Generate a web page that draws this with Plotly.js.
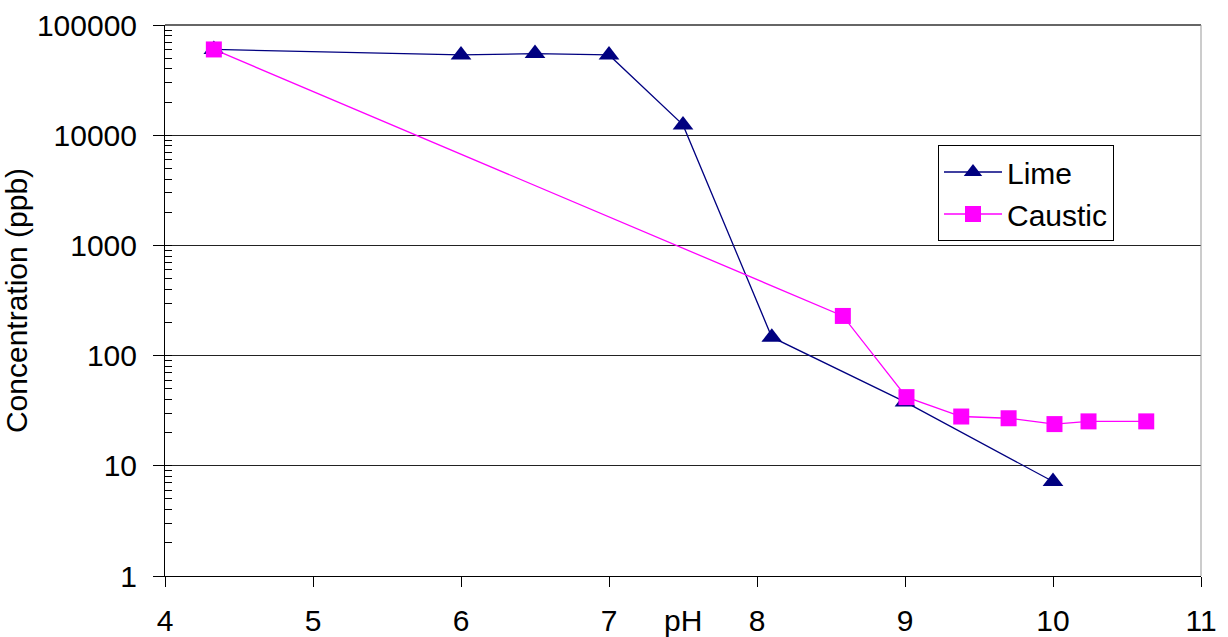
<!DOCTYPE html>
<html>
<head>
<meta charset="utf-8">
<script src="https://cdn.plot.ly/plotly-3.0.1.min.js"></script>
<style>html,body{margin:0;padding:0;background:#fff;}#chart{width:1228px;height:637px;}</style>
</head>
<body>
<div id="chart"></div>
<script>
const limePH = [4.33, 6.0, 6.5, 7.0, 7.5, 8.1, 9.0, 10.0];
const limeConc = [60000, 53500, 55000, 53500, 12400, 147, 38, 7.2];
const causticPH = [4.33, 8.58, 9.01, 9.38, 9.7, 10.01, 10.24, 10.63];
const causticConc = [60000, 229, 42, 28, 27, 23.9, 25.3, 25.3];
const yTickVals = [1, 10, 100, 1000, 10000, 100000];
const yTickText = ['1', '10', '100', '1000', '10000', '100000'];
const xTickVals = [4, 5, 6, 7, 8, 9, 10, 11];

const font = 'Arial, "Liberation Sans", sans-serif';
const fs = 30;

const traces = [
  {
    x: limePH, y: limeConc, name: 'Lime', type: 'scatter', mode: 'lines+markers',
    line: {color: '#000080', width: 1.3},
    marker: {symbol: 'triangle-up', size: 18, color: '#000080'}
  },
  {
    x: causticPH, y: causticConc, name: 'Caustic', type: 'scatter', mode: 'lines+markers',
    line: {color: '#FF00FF', width: 1.3},
    marker: {symbol: 'square', size: 16, color: '#FF00FF'}
  }
];

const layout = {
  width: 1228, height: 637,
  margin: {l: 165, r: 27, t: 25, b: 61},
  paper_bgcolor: '#fff', plot_bgcolor: '#fff',
  font: {family: font, size: fs, color: '#000'},
  showlegend: true,
  legend: {
    x: (938-165)/1036, xref: 'paper', y: 1 - (145-25)/551, yanchor: 'top', xanchor: 'left',
    bordercolor: '#000', borderwidth: 1, bgcolor: '#fff',
    font: {family: font, size: fs, color: '#000'},
    itemwidth: 58, tracegroupgap: 0
  },
  xaxis: {
    range: [4, 11], tickvals: xTickVals, ticks: 'outside', ticklen: 10, tickcolor: '#000',
    showline: true, linecolor: '#000', linewidth: 1, showgrid: false, zeroline: false,
    tickfont: {family: font, size: fs}, ticklabelstandoff: 8
  },
  yaxis: {
    type: 'log', range: [0, 5], tickvals: yTickVals, ticktext: yTickText,
    ticks: 'outside', ticklen: 11, tickcolor: '#000',
    showline: true, linecolor: '#000', linewidth: 1,
    showgrid: true, gridcolor: '#222', gridwidth: 1, zeroline: false,
    tickfont: {family: font, size: fs}, ticklabelstandoff: 10,
    minor: {ticks: 'inside', ticklen: 7, tickcolor: '#000', dtick: 'D1', showgrid: false},
    title: {text: 'Concentration (ppb)', font: {family: font, size: fs}, standoff: 8}
  },
  shapes: [
    {type: 'line', xref: 'paper', yref: 'paper', x0: 0, x1: 1, y0: 1, y1: 1, line: {color: '#666', width: 2}},
    {type: 'line', xref: 'paper', yref: 'paper', x0: 1, x1: 1, y0: 0, y1: 1, line: {color: '#999', width: 1}}
  ],
  annotations: [
    {text: 'pH', x: 7.5, xref: 'x', y: -44/551, yref: 'paper', showarrow: false,
     font: {family: font, size: fs, color: '#000'}, yanchor: 'middle'}
  ]
};

Plotly.newPlot('chart', traces, layout, {displayModeBar: false, staticPlot: true});
</script>
</body>
</html>
